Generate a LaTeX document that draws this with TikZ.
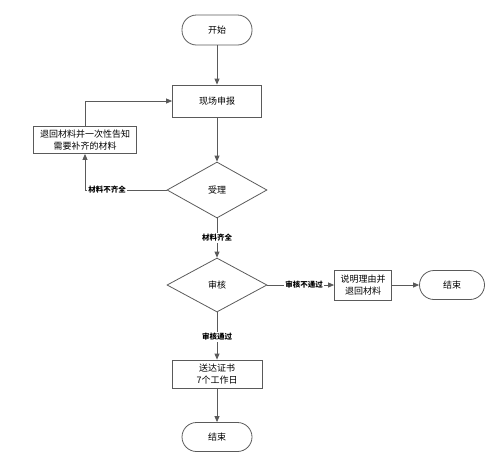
\documentclass[tikz,border=0pt]{standalone}
\usepackage{fontspec}
\setmainfont{Noto Sans CJK SC}
\usepackage{tikz}
\usetikzlibrary{shapes.geometric,arrows.meta}
\definecolor{linegray}{RGB}{90,90,90}

\begin{document}
\begin{tikzpicture}[x=1pt, y=-1pt,
  box/.style={draw=linegray, thick, minimum width=89pt, minimum height=32pt,
    font=\fontsize{9}{12}\selectfont, inner sep=1pt},
  term/.style={draw=linegray, thick, rounded corners=14.5pt,
    minimum width=70pt, minimum height=30pt, font=\fontsize{9}{12}\selectfont},
  dia/.style={draw=linegray, thick, diamond, aspect=1.8, inner sep=0pt,
    minimum width=100pt, minimum height=56pt, font=\fontsize{9}{12}\selectfont},
  arr/.style={-{Triangle[length=6pt,width=5pt]}, thick, color=linegray},
  lbl/.style={font=\fontsize{7.5}{9}\selectfont\bfseries, fill=white, inner sep=1pt, text=black},
  every node/.style={align=center}
]
  \useasboundingbox (0,0) rectangle (500,456);

  \node[term] (start) at (217,30)  {开始};
  \node[box]  (rep)   at (217,101) {现场申报};
  \node[box, minimum width=103pt, minimum height=27pt] (back) at (85,140)
    {退回材料并一次性告知\\需要补齐的材料};
  \node[dia]  (acc)   at (217,190) {受理};
  \node[dia, minimum height=54pt] (rev) at (217,285) {审核};
  \node[box, minimum width=57pt, minimum height=30pt] (expl) at (363,285)
    {说明理由并\\退回材料};
  \node[term, minimum width=65pt, minimum height=29pt] (endr) at (452,285) {结束};
  \node[box, minimum width=90pt, minimum height=28pt] (cert) at (217,374)
    {送达证书\\7个工作日};
  \node[term, minimum height=29pt] (endb) at (217,437) {结束};

  \coordinate (c1) at (85,190);
  \coordinate (c2) at (85,101);

  \draw[arr] (start) -- (rep);
  \draw[arr] (rep) -- (acc);
  \draw[arr] (acc.west) -- (c1) node[lbl, pos=0.73]{材料不齐全} -- (back.south);
  \draw[arr] (back.north) -- (c2) -- (rep.west);
  \draw[arr] (acc) -- (rev) node[lbl, midway]{材料齐全};
  \draw[arr] (rev) -- (expl) node[lbl, pos=0.55]{审核不通过};
  \draw[arr] (expl) -- (endr);
  \draw[arr] (rev) -- (cert) node[lbl, pos=0.52]{审核通过};
  \draw[arr] (cert) -- (endb);
\end{tikzpicture}
\end{document}
